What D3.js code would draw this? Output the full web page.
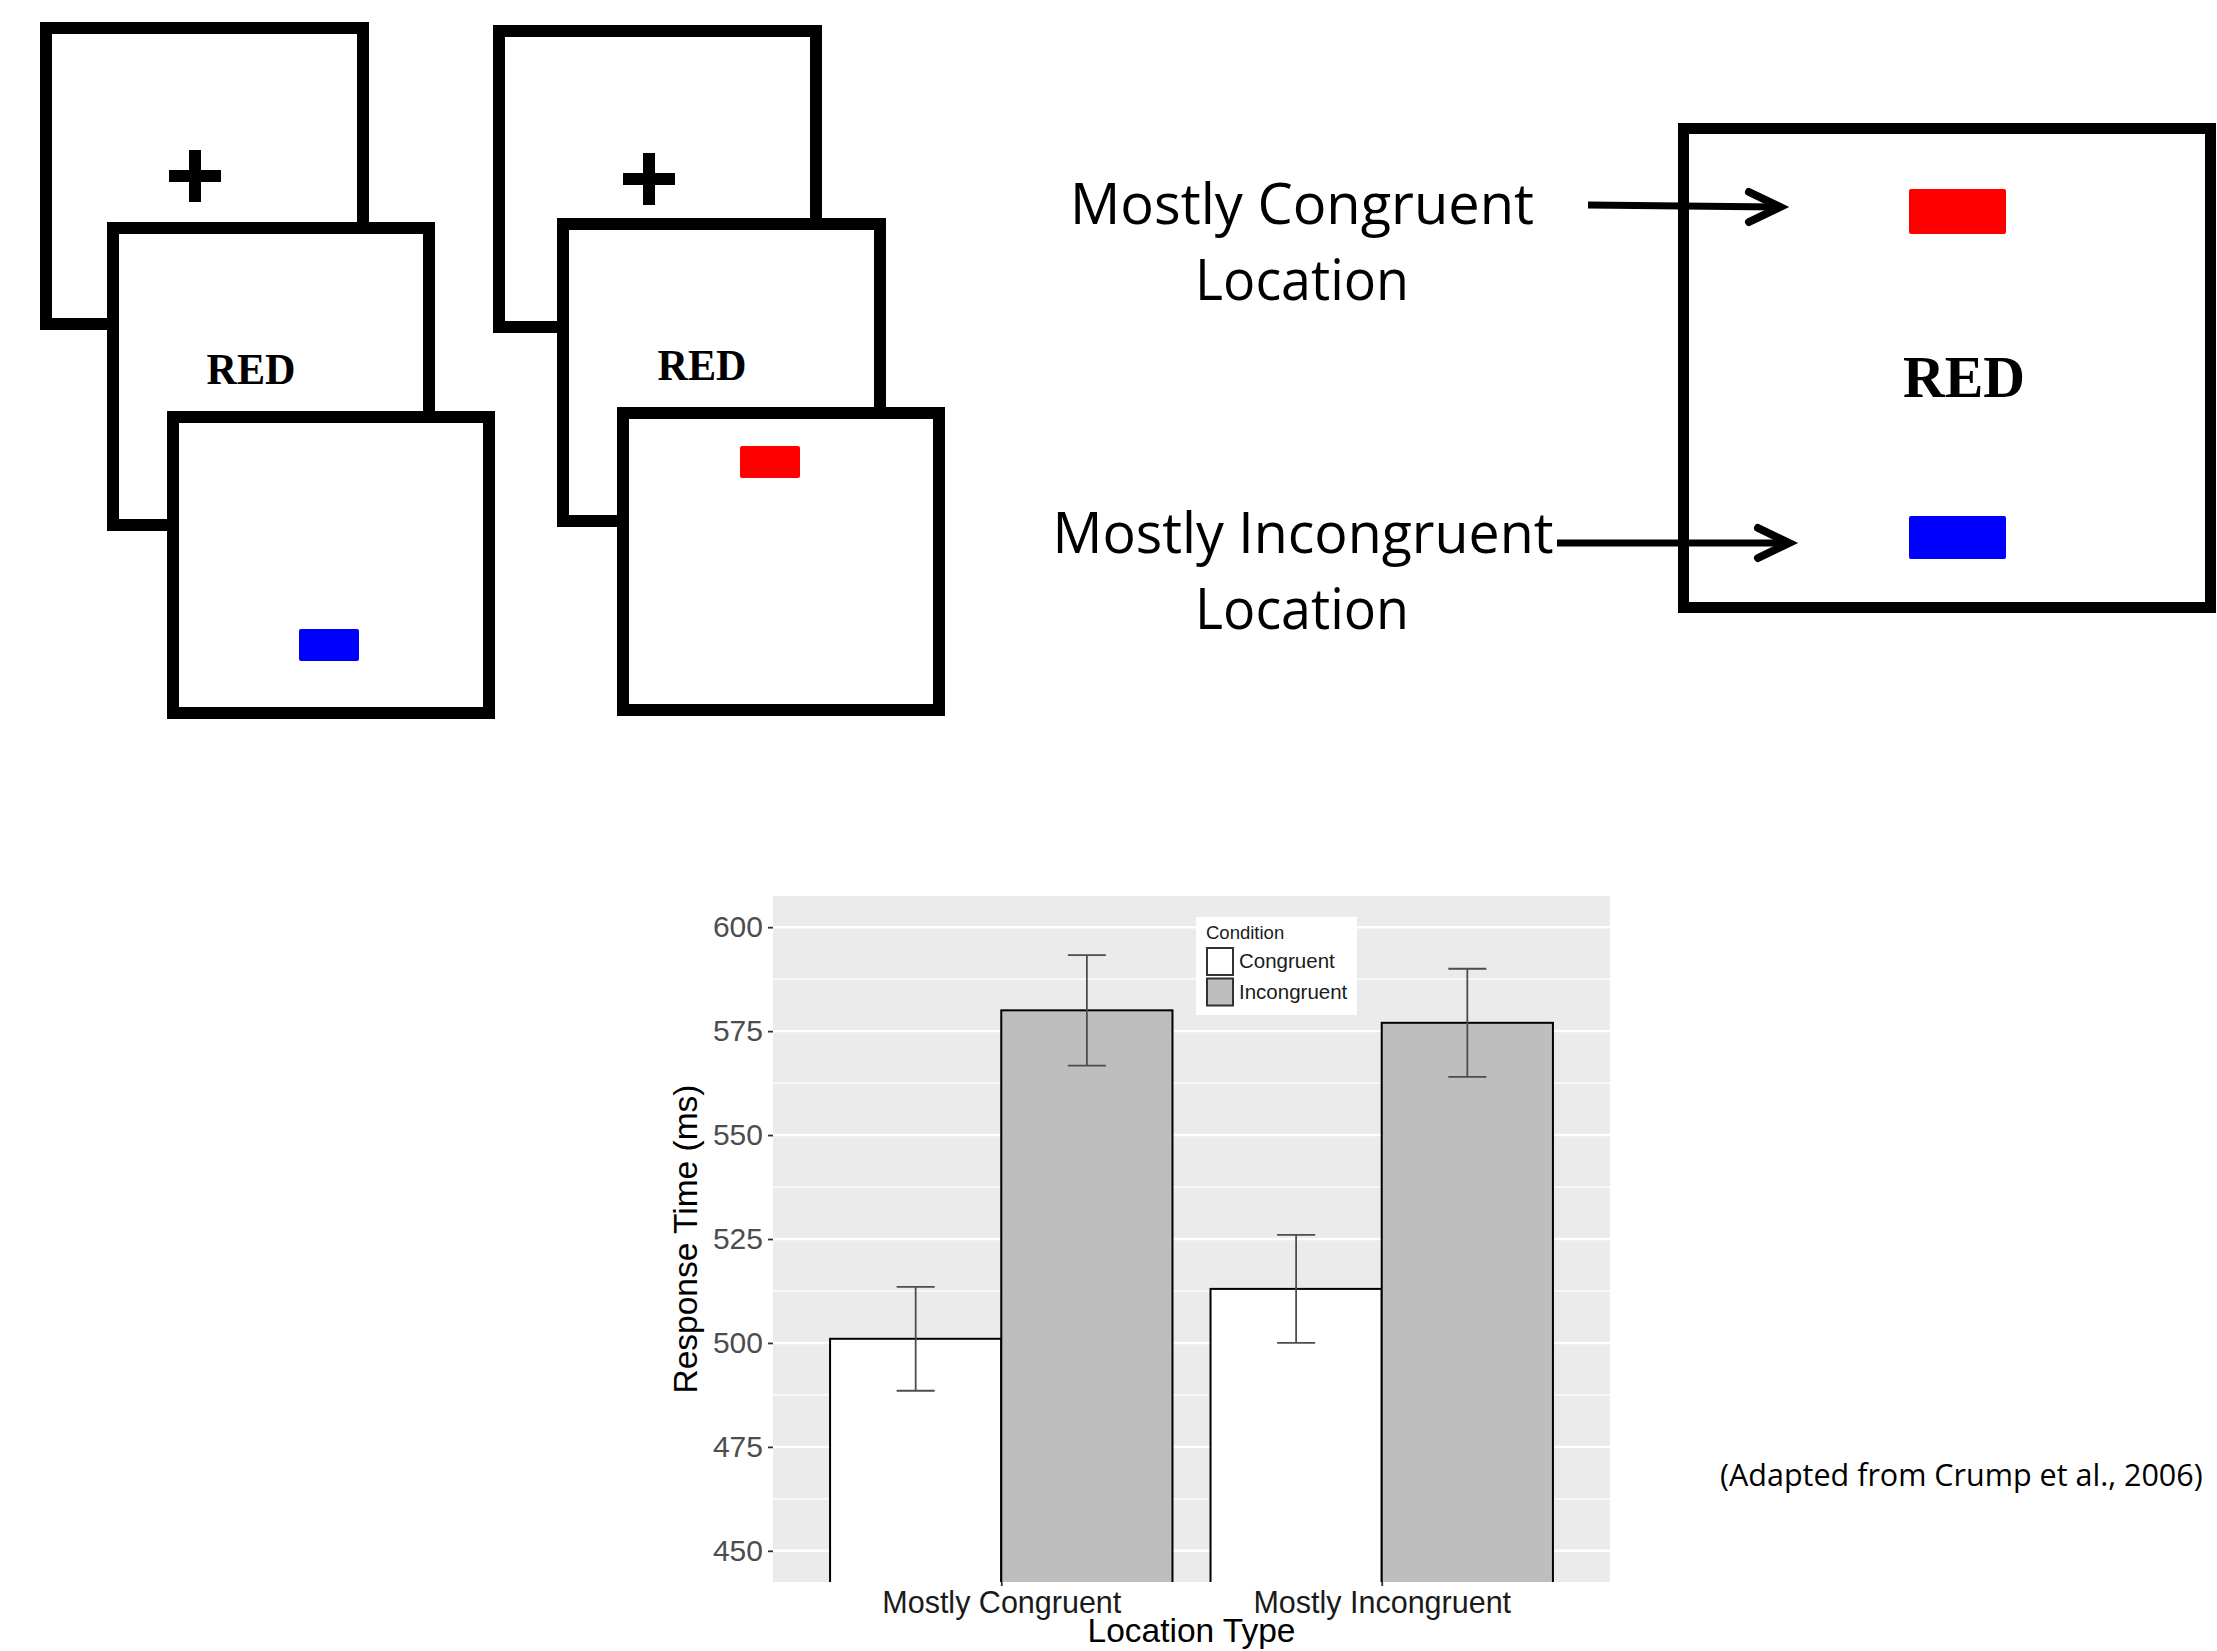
<!DOCTYPE html>
<html><head><meta charset="utf-8">
<script src="https://cdn.jsdelivr.net/npm/d3@7"></script>
<style>html,body{margin:0;padding:0;background:#fff;overflow:hidden}</style>
</head><body><svg id="c" width="2217" height="1651"></svg>
<script>
// ---------- chart data ----------
const categories = ["Mostly Congruent", "Mostly Incongruent"];
const conditions = ["Congruent", "Incongruent"];
const congruentRT = [501, 513];
const incongruentRT = [580, 577];
const congruentErr = [12.5, 13];
const incongruentErr = [13.3, 13];
const yTicks = [450, 475, 500, 525, 550, 575, 600];
const yMinorTicks = [462.5, 487.5, 512.5, 537.5, 562.5, 587.5];
const conditionFill = ["#FFFFFF", "#BEBEBE"];

const svg = d3.select("#c");

// ---------- stimulus diagrams (decorative layout) ----------
const sans = "'Open Sans', 'Noto Sans', sans-serif";
const serif = "'Liberation Serif', 'DejaVu Serif', serif";
const diag = svg.append("g");
function frame(x0, y0, x1, y1, sw) {
  diag.append("rect").attr("x", x0 + sw / 2).attr("y", y0 + sw / 2)
    .attr("width", x1 - x0 - sw).attr("height", y1 - y0 - sw)
    .attr("fill", "#fff").attr("stroke", "#000").attr("stroke-width", sw);
}
function plus(cx, cy) {
  diag.append("rect").attr("x", cx - 26).attr("y", cy - 6).attr("width", 52).attr("height", 12).attr("fill", "#000");
  diag.append("rect").attr("x", cx - 6).attr("y", cy - 26).attr("width", 12).attr("height", 52).attr("fill", "#000");
}
function word(cx, by, size, len) {
  const t = diag.append("text").attr("x", cx).attr("y", by).attr("text-anchor", "middle")
    .attr("font-family", serif).attr("font-weight", "bold").attr("font-size", size).text("RED");
  if (len) t.attr("textLength", len).attr("lengthAdjust", "spacingAndGlyphs");
}
function patch(x0, y0, x1, y1, col) {
  diag.append("rect").attr("x", x0).attr("y", y0).attr("width", x1 - x0).attr("height", y1 - y0)
    .attr("rx", 2).attr("fill", col);
}
// stack 1
frame(40, 22, 369, 330, 12); plus(195, 176);
frame(107, 222, 435, 531, 12); word(251, 384, 45, 89);
frame(167, 411, 495, 719, 12); patch(299, 629, 359, 661, "#0000FF");
// stack 2
frame(493, 25, 822, 333, 12); plus(649, 179);
frame(557, 218, 886, 527, 12); word(702, 380, 45, 89);
frame(617, 407, 945, 716, 12); patch(740, 446, 800, 478, "#FF0000");
// right frame
frame(1678, 123, 2216, 613, 11);
patch(1909, 189, 2006, 234, "#FF0000");
patch(1909, 516, 2006, 559, "#0000FF");
word(1964, 397, 60, 122);
// labels
function label(txt, cx, by, len) {
  diag.append("text").attr("x", cx).attr("y", by).attr("text-anchor", "middle")
    .attr("font-family", sans).attr("font-size", 57)
    .attr("textLength", len).attr("lengthAdjust", "spacingAndGlyphs").text(txt);
}
label("Mostly Congruent", 1302, 224, 464);
label("Location", 1302, 300, 214);
label("Mostly Incongruent", 1303, 553, 501);
label("Location", 1302, 629, 214);
// arrows
function arrow(x0, y0, x1, y1) {
  diag.append("line").attr("x1", x0).attr("y1", y0).attr("x2", x1 - 3).attr("y2", y1)
    .attr("stroke", "#000").attr("stroke-width", 7);
  diag.append("path").attr("d", `M${x1 - 31},${y1 - 15}L${x1},${y1}L${x1 - 31},${y1 + 15}`)
    .attr("fill", "none").attr("stroke", "#000").attr("stroke-width", 8)
    .attr("stroke-linecap", "round").attr("stroke-linejoin", "miter");
}
arrow(1588, 205, 1780, 207);
arrow(1557, 543, 1789, 543);
// citation
diag.append("text").attr("x", 1720).attr("y", 1486).attr("font-family", sans).attr("font-size", 30.5)
  .text("(Adapted from Crump et al., 2006)");

// ---------- bar chart ----------
const helv = "'Liberation Sans', Arial, Helvetica, sans-serif";
const P = {left: 773, right: 1610, top: 896, bottom: 1582};
const y = d3.scaleLinear().domain([442.5, 607.5]).range([P.bottom, P.top]);
const x = d3.scalePoint().domain(categories).range([P.left, P.right]).padding(0.6);
const step = x.step();
const xSub = d3.scaleBand().domain(conditions).range([-0.45 * step, 0.45 * step]).padding(0);

const chart = svg.append("g");
chart.append("rect").attr("x", P.left).attr("y", P.top).attr("width", P.right - P.left)
  .attr("height", P.bottom - P.top).attr("fill", "#EBEBEB");
svg.append("clipPath").attr("id", "pc").append("rect").attr("x", P.left).attr("y", P.top)
  .attr("width", P.right - P.left).attr("height", P.bottom - P.top);

chart.selectAll("line.minor").data(yMinorTicks).join("line").attr("class", "minor")
  .attr("x1", P.left).attr("x2", P.right).attr("y1", d => y(d)).attr("y2", d => y(d))
  .attr("stroke", "#fff").attr("stroke-width", 1.2);
chart.selectAll("line.major").data(yTicks).join("line").attr("class", "major")
  .attr("x1", P.left).attr("x2", P.right).attr("y1", d => y(d)).attr("y2", d => y(d))
  .attr("stroke", "#fff").attr("stroke-width", 2.4);

const rows = [];
categories.forEach((c, i) => {
  rows.push({cat: c, cond: conditions[0], v: congruentRT[i], e: congruentErr[i], fill: conditionFill[0]});
  rows.push({cat: c, cond: conditions[1], v: incongruentRT[i], e: incongruentErr[i], fill: conditionFill[1]});
});

const bars = chart.append("g").attr("clip-path", "url(#pc)");
bars.selectAll("rect").data(rows).join("rect")
  .attr("x", d => x(d.cat) + xSub(d.cond))
  .attr("width", xSub.bandwidth())
  .attr("y", d => y(d.v))
  .attr("height", d => y.range()[0] - y(d.v) + 10)
  .attr("fill", d => d.fill).attr("stroke", "#000").attr("stroke-width", 2);

const eb = chart.append("g").attr("stroke", "#4D4D4D").attr("stroke-width", 1.8).attr("fill", "none");
rows.forEach(d => {
  const cx = x(d.cat) + xSub(d.cond) + xSub.bandwidth() / 2;
  const hw = 0.05 * step;
  eb.append("line").attr("x1", cx).attr("x2", cx).attr("y1", y(d.v + d.e)).attr("y2", y(d.v - d.e));
  eb.append("line").attr("x1", cx - hw).attr("x2", cx + hw).attr("y1", y(d.v + d.e)).attr("y2", y(d.v + d.e));
  eb.append("line").attr("x1", cx - hw).attr("x2", cx + hw).attr("y1", y(d.v - d.e)).attr("y2", y(d.v - d.e));
});

// axes
const yAxis = chart.append("g").attr("transform", `translate(${P.left},0)`)
  .call(d3.axisLeft(y).tickValues(yTicks).tickSize(5).tickPadding(5));
yAxis.select(".domain").remove();
yAxis.selectAll(".tick line").attr("stroke", "#333").attr("stroke-width", 1.8);
yAxis.selectAll(".tick text").attr("font-family", helv).attr("font-size", 30).attr("fill", "#4D4D4D");

const xAxis = chart.append("g").attr("transform", `translate(0,${P.bottom})`)
  .call(d3.axisBottom(x).tickSize(4).tickPadding(6));
xAxis.select(".domain").remove();
xAxis.selectAll(".tick line").attr("stroke", "#333").attr("stroke-width", 1.8);
xAxis.selectAll(".tick text").attr("font-family", helv).attr("font-size", 30.5).attr("fill", "#1a1a1a")
  .attr("dy", null).attr("y", 31);

chart.append("text").attr("x", (P.left + P.right) / 2).attr("y", 1642).attr("text-anchor", "middle")
  .attr("font-family", helv).attr("font-size", 33.5).attr("fill", "#000").text("Location Type");
chart.append("text").attr("transform", `translate(697,${(P.top + P.bottom) / 2}) rotate(-90)`)
  .attr("text-anchor", "middle").attr("font-family", helv).attr("font-size", 33.5).attr("fill", "#000")
  .text("Response Time (ms)");

// legend
const lg = chart.append("g");
lg.append("rect").attr("x", 1196).attr("y", 917).attr("width", 161).attr("height", 98).attr("fill", "#fff");
lg.append("text").attr("x", 1206).attr("y", 939).attr("font-family", helv).attr("font-size", 18.5)
  .attr("fill", "#1a1a1a").text("Condition");
conditions.forEach((c, i) => {
  lg.append("rect").attr("x", 1207).attr("y", 948 + i * 30.5).attr("width", 26).attr("height", 27)
    .attr("fill", conditionFill[i]).attr("stroke", "#333").attr("stroke-width", 2);
  lg.append("text").attr("x", 1239).attr("y", 968 + i * 31).attr("font-family", helv).attr("font-size", 20.5)
    .attr("fill", "#1a1a1a").text(c);
});
</script></body></html>
